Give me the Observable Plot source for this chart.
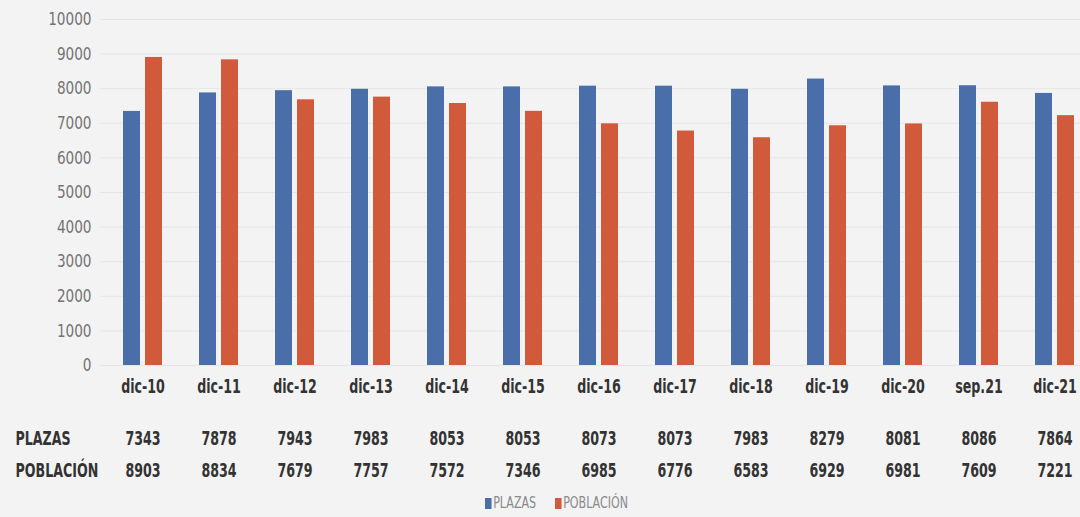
<!DOCTYPE html>
<html><head><meta charset="utf-8">
<script src="https://cdn.jsdelivr.net/npm/d3@7"></script>
<script src="https://cdn.jsdelivr.net/npm/@observablehq/plot@0.6"></script>
<style>
html,body{margin:0;padding:0;background:#f3f3f3;overflow:hidden;width:1080px;height:517px}
#chart svg{display:block;background:#f3f3f3}
.legend{position:absolute;left:0;top:490px;width:1080px;height:27px;font-family:"DejaVu Sans Condensed","DejaVu Sans",sans-serif;font-size:15px;color:#8a8a8a}
.item{position:absolute;top:4px;white-space:nowrap;transform-origin:left center;transform:scaleX(0.82)}
.sw{display:inline-block;width:8px;height:11px;margin-right:2px;vertical-align:-1px}
</style></head><body><div id="chart"></div><div class="legend" id="legend"></div>
<script>
const categories = ["dic-10","dic-11","dic-12","dic-13","dic-14","dic-15","dic-16","dic-17","dic-18","dic-19","dic-20","sep.21","dic-21"];
const plazas = [7343,7878,7943,7983,8053,8053,8073,8073,7983,8279,8081,8086,7864];
const poblacion = [8903,8834,7679,7757,7572,7346,6985,6776,6583,6929,6981,7609,7221];
const series = ["PLAZAS","POBLACIÓN"];
const yTicks = [0,1000,2000,3000,4000,5000,6000,7000,8000,9000,10000];
const colors = ["#4a6ea9","#d05a3b"];

const rows = categories.map((c,i)=>({cat:c, plazas:plazas[i], poblacion:poblacion[i]}));
const FONT = '"DejaVu Sans Condensed","DejaVu Sans",sans-serif';
const tableText = {fontWeight:"bold",fontSize:19,fill:"#333",className:"tbl"};

const chart = Plot.plot({
  width:1080, height:490,
  marginTop:19, marginBottom:125, marginLeft:100, marginRight:0,
  style:{background:"#f3f3f3", fontFamily:FONT, overflow:"visible"},
  x:{domain:categories, range:[103.6,1093.6], paddingInner:0.488, paddingOuter:0.244, axis:null},
  y:{domain:[0,10000], label:null},
  marks:[
    Plot.gridY(yTicks,{stroke:"#e6e6e6",strokeOpacity:1}),
    Plot.axisY(yTicks,{tickSize:0,tickPadding:9,tickFormat:d3.format("d"),fontSize:18,fill:"#747474",label:null,className:"yax"}),
    Plot.barY(rows,{x:"cat",y:"plazas",fill:colors[0],insetRight:22}),
    Plot.barY(rows,{x:"cat",y:"poblacion",fill:colors[1],insetLeft:22}),
    Plot.text(categories,{x:d=>d,frameAnchor:"bottom",dy:27,text:d=>d,...tableText}),
    Plot.text(rows,{x:"cat",frameAnchor:"bottom",dy:79,text:d=>String(d.plazas),...tableText}),
    Plot.text(rows,{x:"cat",frameAnchor:"bottom",dy:111,text:d=>String(d.poblacion),...tableText}),
    Plot.text([series[0]],{frameAnchor:"bottom-left",dx:-85,dy:79,textAnchor:"start",text:d=>d,...tableText}),
    Plot.text([series[1]],{frameAnchor:"bottom-left",dx:-85,dy:111,textAnchor:"start",text:d=>d,...tableText})
  ]
});
document.getElementById("chart").appendChild(chart);

// emulate a condensed typeface: squeeze table texts horizontally about their anchor point
chart.querySelectorAll(".tbl text").forEach(t=>{
  const tr = t.getAttribute("transform");
  if (tr) t.setAttribute("transform", tr + " scale(0.74,1)");
  else {
    const len = t.getComputedTextLength();
    t.setAttribute("textLength", (len*0.74).toFixed(1));
    t.setAttribute("lengthAdjust","spacingAndGlyphs");
  }
});
// axis labels: compress via textLength
chart.querySelectorAll(".yax text").forEach(t=>{
  const len = t.getComputedTextLength();
  if (len > 0){
    t.setAttribute("textLength", (len*0.84).toFixed(1));
    t.setAttribute("lengthAdjust","spacingAndGlyphs");
  }
});

const legend = document.getElementById("legend");
const lx = [485, 555];
series.forEach((s,i)=>{
  const it = document.createElement("span");
  it.className = "item";
  it.style.left = lx[i] + "px";
  it.innerHTML = `<span class="sw" style="background:${colors[i]}"></span>${s}`;
  legend.appendChild(it);
});
</script>
</body></html>
